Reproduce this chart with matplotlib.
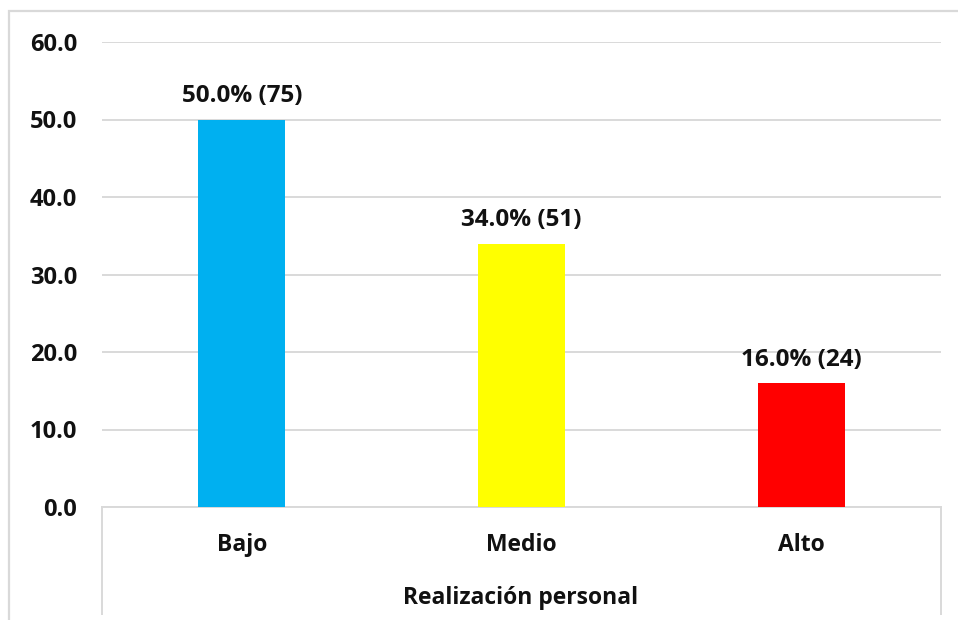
#!/usr/bin/env python3
"""Bar chart: Realización personal (Bajo / Medio / Alto)."""

import matplotlib

matplotlib.use("Agg")
import matplotlib.pyplot as plt
from matplotlib.lines import Line2D
from matplotlib.patches import Rectangle

CATEGORIES = ["Bajo", "Medio", "Alto"]
PERCENTS = [50.0, 34.0, 16.0]
COUNTS = [75, 51, 24]
BAR_COLORS = ["#00B0F0", "#FFFF00", "#FF0000"]
Y_TICKS = [0, 10, 20, 30, 40, 50, 60]
AXIS_TITLE = "Realización personal"

W, H = 958, 620
GRID = "#D9D9D9"
FS = 16.5


def fx(px):
    return px / W


def fy(py):
    return 1 - py / H


plt.rcParams.update({
    "font.family": ["Open Sans", "DejaVu Sans"],
    "font.weight": "bold",
    "font.size": FS,
})

fig = plt.figure(figsize=(W / 100, H / 100), dpi=100)
ax = fig.add_axes([fx(102), fy(507), fx(941) - fx(102), fy(42) - fy(507)])

x = list(range(len(CATEGORIES)))
ax.bar(x, PERCENTS, width=0.31, color=BAR_COLORS, zorder=3)
for xi, p, n in zip(x, PERCENTS, COUNTS):
    ax.annotate(f"{p:.1f}% ({n})", (xi, p), xytext=(0, 8), textcoords="offset points",
                ha="center", va="bottom", fontsize=17.5, fontweight="bold", color="#111111")

ax.set_xlim(-0.5, len(CATEGORIES) - 0.5)
ax.set_ylim(0, 60)
ax.set_yticks(Y_TICKS)
ax.set_yticklabels([f"{v:.1f}" for v in Y_TICKS])
ax.set_xticks(x)
ax.set_xticklabels(CATEGORIES)
ax.tick_params(axis="y", length=0, pad=18, labelsize=17, labelcolor="#111111")
ax.tick_params(axis="x", length=0, pad=19, labelsize=FS, labelcolor="#111111")
ax.grid(axis="y", color=GRID, lw=1.4, zorder=0)
ax.set_axisbelow(True)
for side in ["top", "right", "left"]:
    ax.spines[side].set_visible(False)
ax.spines["bottom"].set_color(GRID)
ax.spines["bottom"].set_linewidth(1.4)

fig.text(fx(521), fy(598), AXIS_TITLE, ha="center", va="center",
         fontsize=FS, fontweight="bold", color="#111111")

# category box lines below the axis, as in the spreadsheet chart
for px in (102, 941):
    fig.add_artist(Line2D([fx(px), fx(px)], [fy(507), fy(614)], color=GRID, lw=1.4))

# outer chart border
fig.add_artist(Rectangle((fx(9), fy(640)), 1.2, fy(11) - fy(640), fill=False,
                         edgecolor=GRID, lw=1.6, transform=fig.transFigure))

fig.savefig("out.png", dpi=100)
